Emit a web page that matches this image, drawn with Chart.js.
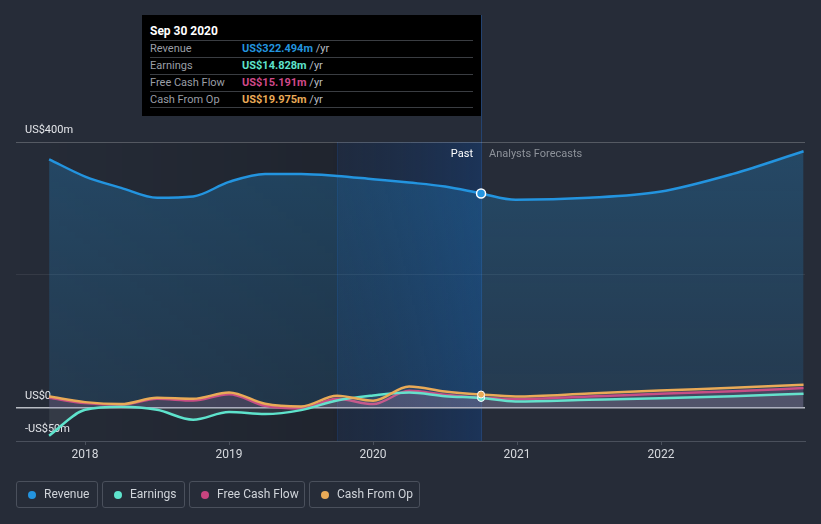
<!DOCTYPE html>
<html>
<head>
<meta charset="utf-8">
<script src="https://cdn.jsdelivr.net/npm/chart.js@4/dist/chart.umd.min.js"></script>
<style>
    html, body { margin: 0; padding: 0; background: #262c38; }
    #wrap { position: relative; width: 821px; height: 524px; font-family: Roboto, "Noto Sans", sans-serif; overflow: hidden; }
    #chart { position: absolute; left: 0; top: 0; }
    .tip { position: absolute; left: 142px; top: 15px; width: 339px; height: 101px; background: #000; color: #fff; }
    .tip .title { position: absolute; left: 8px; top: 9px; font-size: 12px; font-weight: bold; }
    .tip .row { position: absolute; left: 8px; width: 323px; height: 17px; border-top: 1px solid #3a3d42; font-size: 11px; line-height: 16px; color: #9a9ea6; }
    .tip .row .v { position: absolute; left: 92px; top: 0; font-weight: bold; }
    .tip .row .u { color: #b8bcc2; font-weight: normal; }
    .tip .last { position: absolute; left: 8px; top: 92px; width: 323px; border-top: 1px solid #3a3d42; }
    .lbl { position: absolute; font-size: 11px; line-height: 13px; }
    .legend { position: absolute; top: 481px; height: 25px; border: 1px solid #4a505c; border-radius: 3px; color: #d0d4da; font-size: 12px; line-height: 25px; box-sizing: content-box; }
    .legend i { position: absolute; left: 11px; top: 9px; width: 8px; height: 8px; border-radius: 50%; }
    .legend span { position: absolute; left: 27px; top: 0; white-space: nowrap; }
</style>
</head>
<body>
<div id="wrap">
    <canvas id="chart" width="821" height="524"></canvas>
    <div class="tip">
        <div class="title">Sep 30 2020</div>
        <div class="row" style="top:25px">Revenue<span class="v" style="color:#2394df">US$322.494m <span class="u">/yr</span></span></div>
        <div class="row" style="top:42px">Earnings<span class="v" style="color:#5ee3cc">US$14.828m <span class="u">/yr</span></span></div>
        <div class="row" style="top:59px">Free Cash Flow<span class="v" style="color:#d0498a">US$15.191m <span class="u">/yr</span></span></div>
        <div class="row" style="top:76px">Cash From Op<span class="v" style="color:#e9aa57">US$19.975m <span class="u">/yr</span></span></div>
        <div class="last"></div>
    </div>
    <div class="lbl" style="right:348px; top:147px; color:#ffffff">Past</div>
    <div class="lbl" style="left:489px; top:147px; color:#8d929a">Analysts Forecasts</div>
    <div class="legend" style="left:16px; width:80px"><i style="background:#2394df"></i><span>Revenue</span></div>
    <div class="legend" style="left:102px; width:81px"><i style="background:#5ee3cc"></i><span>Earnings</span></div>
    <div class="legend" style="left:189px; width:114px"><i style="background:#c8447f"></i><span>Free Cash Flow</span></div>
    <div class="legend" style="left:309px; width:109px"><i style="background:#e9aa57"></i><span>Cash From Op</span></div>
</div>
<script>
// past values (US$m, trailing twelve months) and analyst forecasts
const pastDates = [2017.75, 2018.0, 2018.25, 2018.5, 2018.75, 2019.0, 2019.25, 2019.5, 2019.75, 2020.0, 2020.25, 2020.5, 2020.75];
const forecastDates = [2020.99, 2021.5, 2021.99, 2022.5, 2022.99];

const revenuePast = [374, 348, 331, 316, 318, 340, 352, 352, 349, 344, 339, 333, 322.494];
const earningsPast = [-42, -3, 1.5, -3, -18, -6.5, -9.5, -3.5, 11, 18.5, 23, 17.5, 14.828];
const fcfPast = [15, 7, 4.5, 13.5, 11, 20.5, 3, -1, 13.5, 5.5, 25.5, 19.5, 15.191];
const cfoPast = [17, 8.5, 5.5, 15, 13.5, 23, 6, 2, 18, 10.5, 32, 24.5, 19.975];

const revenueForecast = [313, 316, 325, 352, 386];
const earningsForecast = [9.5, 12, 14.5, 17.5, 21];
const fcfForecast = [13, 17, 21, 25, 29.6];
const cfoForecast = [17, 21.5, 26, 30, 34.5];

const yTickLabels = { '-50': '-US$50m', '0': 'US$0', '400': 'US$400m' };
const yearTicks = [2018, 2019, 2020, 2021, 2022];

const pastStart = 2019.75;
const pastEnd = 2020.75;

function toPoints(past, forecast) {
    const pts = past.map((v, i) => ({ x: pastDates[i], y: v }));
    return pts.concat(forecast.map((v, i) => ({ x: forecastDates[i], y: v })));
}

const colors = {
    revenue: '#2394df',
    earnings: '#5ee3cc',
    fcf: '#c8447f',
    cfo: '#e9aa57',
    axis: '#4a505c',
    text: '#d6d9de'
};

// background bands: slightly darker before the past window, blue shading for the past year
const bandsPlugin = {
    id: 'bands',
    beforeDraw(chart) {
        const { ctx, chartArea: a, scales: { x } } = chart;
        const x0 = x.getPixelForValue(pastStart);
        const x1 = x.getPixelForValue(pastEnd);
        ctx.save();
        let g = ctx.createLinearGradient(a.left, 0, x0, 0);
        g.addColorStop(0, 'rgba(0,0,0,0)');
        g.addColorStop(1, 'rgba(0,0,0,0.16)');
        ctx.fillStyle = g;
        ctx.fillRect(a.left, a.top, x0 - a.left, a.bottom - a.top);
        g = ctx.createLinearGradient(x0, 0, x1, 0);
        g.addColorStop(0, 'rgba(12,40,85,0.25)');
        g.addColorStop(1, 'rgba(18,60,120,0.5)');
        ctx.fillStyle = g;
        ctx.fillRect(x0, a.top, x1 - x0, a.bottom - a.top);
        ctx.strokeStyle = 'rgba(30,70,130,0.35)';
        ctx.lineWidth = 1;
        ctx.beginPath();
        ctx.moveTo(x0 + 0.5, a.top);
        ctx.lineTo(x0 + 0.5, a.bottom);
        ctx.stroke();
        ctx.strokeStyle = 'rgba(35,85,155,0.6)';
        ctx.beginPath();
        ctx.moveTo(x1 + 0.5, 15);
        ctx.lineTo(x1 + 0.5, a.bottom);
        ctx.stroke();
        ctx.restore();
    }
};

const markerRadius = (r) => (c) => (c.raw && c.raw.x === pastEnd ? r : 0);

function series(label, data, color, fill, order) {
    return {
        label, data, order,
        borderColor: color,
        backgroundColor: fill,
        fill: 'origin',
        borderWidth: 2.5,
        cubicInterpolationMode: 'monotone',
        pointRadius: markerRadius(3.5),
        pointBackgroundColor: color,
        pointBorderColor: '#ffffff',
        pointBorderWidth: 1,
        pointHoverRadius: 0
    };
}

const ctx = document.getElementById('chart').getContext('2d');
const revFill = ctx.createLinearGradient(0, 142, 0, 408);
revFill.addColorStop(0, 'rgba(35,148,223,0.28)');
revFill.addColorStop(1, 'rgba(35,148,223,0.14)');

const revenueSet = series('Revenue', toPoints(revenuePast, revenueForecast), colors.revenue, revFill, 4);
revenueSet.pointRadius = markerRadius(4.5);
revenueSet.pointBorderWidth = 1.5;

new Chart(ctx, {
    type: 'line',
    data: {
        datasets: [
            revenueSet,
            series('Free Cash Flow', toPoints(fcfPast, fcfForecast), colors.fcf, 'rgba(200,68,127,0.14)', 3),
            series('Earnings', toPoints(earningsPast, earningsForecast), colors.earnings, 'rgba(190,200,210,0.10)', 2),
            series('Cash From Op', toPoints(cfoPast, cfoForecast), colors.cfo, 'rgba(190,200,210,0.08)', 1)
        ]
    },
    options: {
        responsive: false,
        animation: false,
        layout: { padding: { top: 142, left: 16, right: 16, bottom: 0 } },
        plugins: { legend: { display: false }, tooltip: { enabled: false } },
        scales: {
            x: {
                type: 'linear',
                min: 2017.52,
                max: 2023.0,
                afterBuildTicks: (s) => { s.ticks = yearTicks.map(v => ({ value: v })); },
                afterFit: (s) => { s.height = 83; },
                ticks: {
                    callback: (v) => String(v),
                    color: colors.text,
                    font: { family: 'Roboto', size: 12 },
                    padding: 3,
                    maxRotation: 0
                },
                grid: { drawOnChartArea: false, drawTicks: true, tickLength: 4, color: colors.axis },
                border: { display: true, color: colors.axis, width: 1 }
            },
            y: {
                min: -50,
                max: 400,
                afterBuildTicks: (s) => { s.ticks = [-50, 0, 200, 400].map(v => ({ value: v })); },
                afterFit: (s) => { s.width = 0; },
                ticks: {
                    mirror: true,
                    padding: 9,
                    labelOffset: -12,
                    color: '#e4e6ea',
                    font: { family: 'Roboto', size: 11 },
                    callback: (v) => yTickLabels[String(v)] || ''
                },
                grid: {
                    drawTicks: false,
                    color: (c) => {
                        const v = c.tick && c.tick.value;
                        if (v === 0) return '#b8bcc3';
                        if (v === 400) return 'rgba(255,255,255,0.22)';
                        if (v === 200) return 'rgba(255,255,255,0.07)';
                        return 'rgba(0,0,0,0)';
                    },
                    lineWidth: (c) => (c.tick && c.tick.value === 0 ? 1.5 : 1)
                },
                border: { display: false }
            }
        }
    },
    plugins: [bandsPlugin]
});
</script>
</body>
</html>
